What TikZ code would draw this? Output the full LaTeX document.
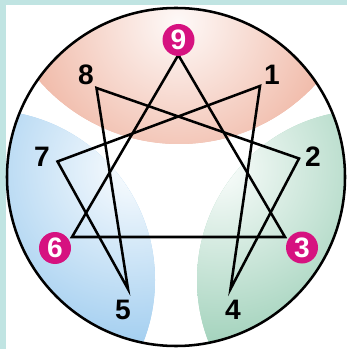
\documentclass[tikz,border=0pt]{standalone}
\usepackage{fontspec}
\setmainfont{Liberation Sans}
\definecolor{bgteal}{RGB}{192,228,226}
\definecolor{salm}{RGB}{240,184,166}
\definecolor{skyb}{RGB}{164,207,240}
\definecolor{mint}{RGB}{164,211,189}
\definecolor{mag}{RGB}{214,18,128}
\begin{document}
\begin{tikzpicture}[x=0.01cm,y=-0.01cm,
  numlab/.style={font=\fontsize{8}{9}\selectfont\bfseries, text=black, inner sep=0pt},
  maglab/.style={circle, fill=mag, minimum size=32*0.01cm, inner sep=0pt,
     font=\fontsize{8}{9}\selectfont\bfseries, text=white},
  edge/.style={line width=0.72pt, black}]
\useasboundingbox (0,0) rectangle (347,349);
\fill[bgteal] (0,0) rectangle (347,349);
\fill[white] (6,5) rectangle (347,349);
% coloured zones
\begin{scope}
  \clip (176,177) circle (169);
  \begin{scope}
    \clip (179,-42) circle (186);
    \fill[salm] (0,0) rectangle (347,349);
    \shade[inner color=salm!8, outer color=salm] (178,22) circle (160);
  \end{scope}
  \begin{scope}
    \clip (-15,280) circle (170);
    \fill[skyb] (0,0) rectangle (347,349);
    \shade[inner color=skyb!5, outer color=skyb] (132,168) circle (175);
  \end{scope}
  \begin{scope}
    \clip (367,280) circle (170);
    \fill[mint] (0,0) rectangle (347,349);
    \shade[inner color=mint!5, outer color=mint] (220,168) circle (175);
  \end{scope}
\end{scope}
\draw[line width=0.72pt] (176,177) circle (169);
% vertices
\coordinate (v9) at (178.3,55);
\coordinate (v1) at (260,86);
\coordinate (v2) at (299,158.5);
\coordinate (v3) at (285,237);
\coordinate (v4) at (230.5,289);
\coordinate (v5) at (128,289);
\coordinate (v6) at (72,237);
\coordinate (v7) at (57.5,161.5);
\coordinate (v8) at (96.5,88);
\draw[edge] (v9) -- (v3) -- (v6) -- cycle;
\draw[edge] (v1) -- (v4) -- (v2) -- (v8) -- (v5) -- (v7) -- cycle;
% labels
\node[maglab] (l9) at (178.5,40) {9};
\node[maglab] (l3) at (302,247.5) {3};
\node[maglab] (l6) at (55,248) {6};
\node[numlab] (l8) at (86,75) {8};
\node[numlab] (l1) at (272,75) {1};
\node[numlab] (l2) at (313,157) {2};
\node[numlab] (l7) at (42,157) {7};
\node[numlab] (l5) at (123,310) {5};
\node[numlab] (l4) at (233,310) {4};
\end{tikzpicture}
\end{document}
